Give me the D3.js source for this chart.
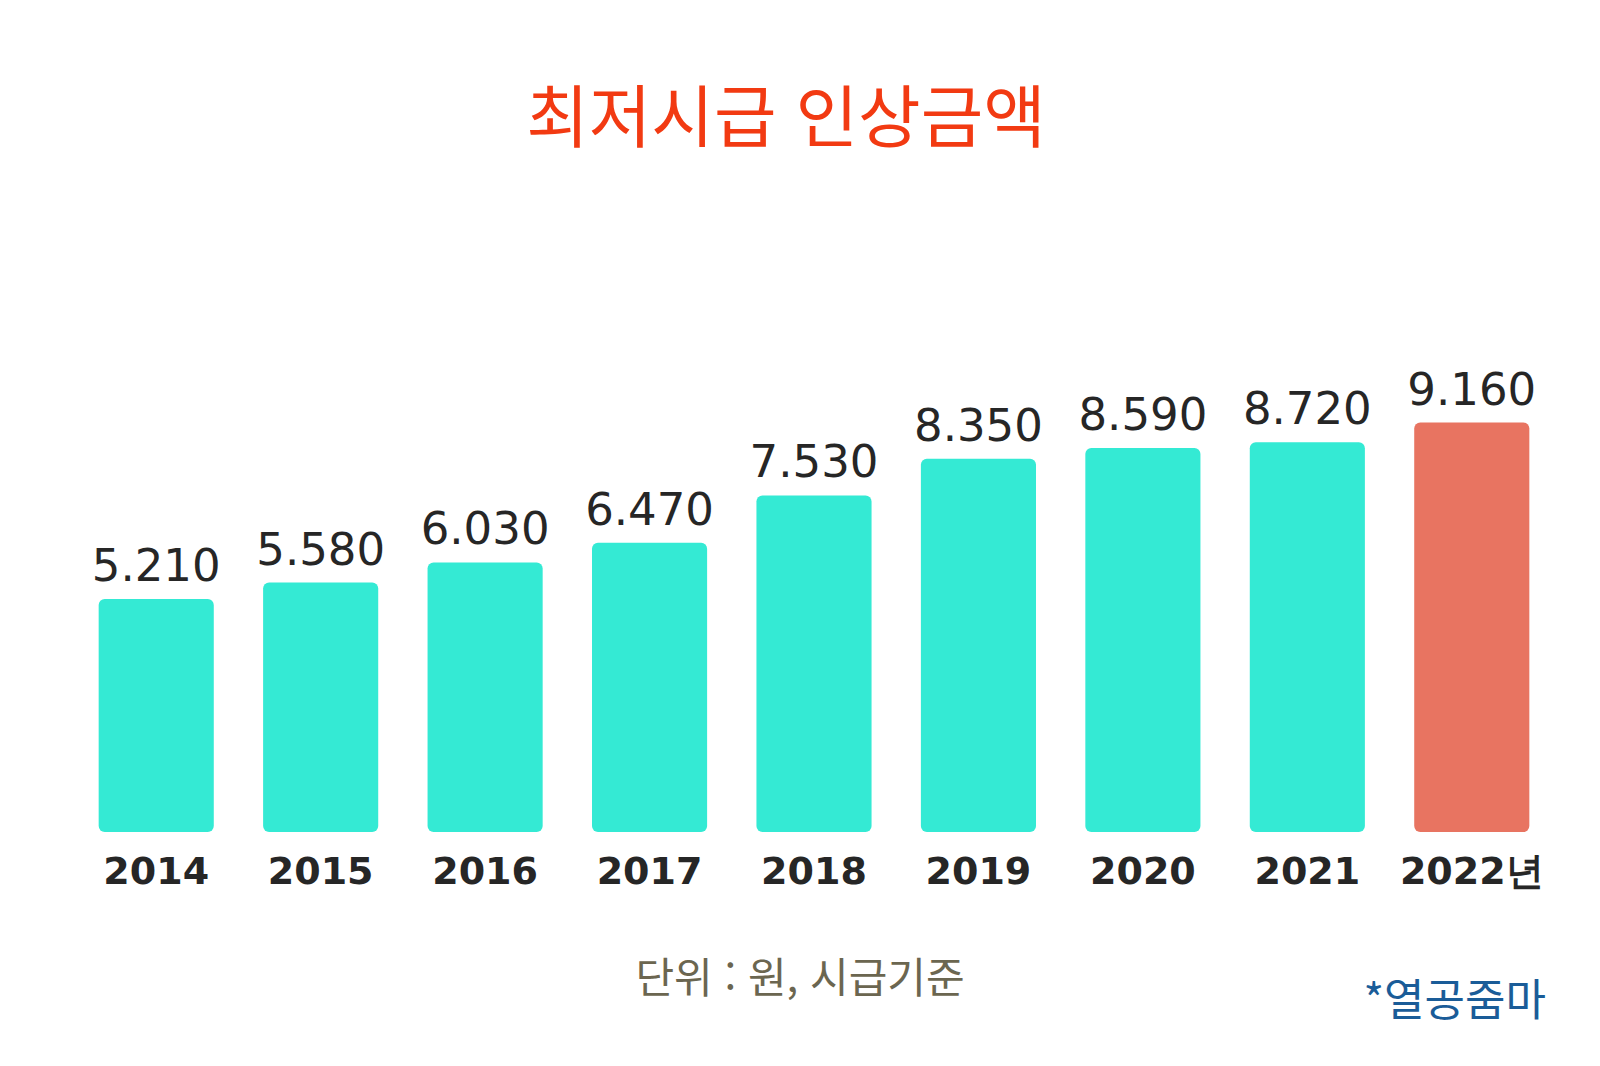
<!DOCTYPE html>
<html lang="ko">
<head>
  <meta charset="utf-8">
  <title>최저시급 인상금액</title>
  <script src="https://d3js.org/d3.v7.min.js"></script>
  <style>
    body { margin: 0; background: #fff; }
    .title { font-family: "Noto Sans CJK KR", sans-serif; font-size: 68px; fill: #f23a12; }
    .val { font-family: "DejaVu Sans", sans-serif; font-size: 45px; fill: #262626; }
    .year { font-family: "DejaVu Sans", sans-serif; font-weight: bold; font-size: 38px; fill: #262626; }
    .unit { font-family: "Noto Sans CJK KR", sans-serif; font-size: 42px; fill: #6b6650; }
    .credit { font-family: "Noto Sans CJK KR", sans-serif; font-size: 44px; fill: #1a5c98; }
  </style>
</head>
<body>
<script>
  // data (won per hour)
  const years = ["2014", "2015", "2016", "2017", "2018", "2019", "2020", "2021", "2022"];
  const wages = [5210, 5580, 6030, 6470, 7530, 8350, 8590, 8720, 9160];
  const yearLabels = ["2014", "2015", "2016", "2017", "2018", "2019", "2020", "2021", "2022년"];

  const width = 1600, height = 1066;
  const svg = d3.select("body").append("svg")
    .attr("width", width)
    .attr("height", height);

  const x = d3.scaleBand()
    .domain(years)
    .range([74, 1554])
    .paddingInner(0.3)
    .paddingOuter(0.15);

  const y = d3.scaleLinear()
    .domain([0, 10000])
    .range([832, 385]);

  // 5.210 style: dot as thousands separator
  const fmt = d3.formatLocale({ decimal: ",", thousands: ".", grouping: [3], currency: ["", ""] }).format(",d");

  const data = years.map((yr, i) => ({ year: yr, value: wages[i], label: yearLabels[i] }));

  svg.append("text")
    .attr("class", "title")
    .attr("x", 786)
    .attr("y", 142)
    .attr("text-anchor", "middle")
    .text("최저시급 인상금액");

  svg.selectAll(".bar")
    .data(data)
    .enter().append("rect")
    .attr("class", "bar")
    .attr("x", d => x(d.year))
    .attr("y", d => y(d.value))
    .attr("width", x.bandwidth())
    .attr("height", d => y(0) - y(d.value))
    .attr("rx", 6)
    .attr("fill", (d, i) => i === data.length - 1 ? "#e87461" : "#34ead4");

  svg.selectAll(".val")
    .data(data)
    .enter().append("text")
    .attr("class", "val")
    .attr("x", d => x(d.year) + x.bandwidth() / 2)
    .attr("y", d => y(d.value) - 18)
    .attr("text-anchor", "middle")
    .text(d => fmt(d.value));

  svg.selectAll(".year")
    .data(data)
    .enter().append("text")
    .attr("class", "year")
    .attr("x", d => x(d.year) + x.bandwidth() / 2)
    .attr("y", 884)
    .attr("text-anchor", "middle")
    .text(d => d.label);

  svg.append("text")
    .attr("class", "unit")
    .attr("x", 800)
    .attr("y", 993)
    .attr("text-anchor", "middle")
    .text("단위 : 원, 시급기준");

  svg.append("text")
    .attr("class", "credit")
    .attr("x", 1546)
    .attr("y", 1016)
    .attr("text-anchor", "end")
    .text("*열공줌마");
</script>
</body>
</html>
